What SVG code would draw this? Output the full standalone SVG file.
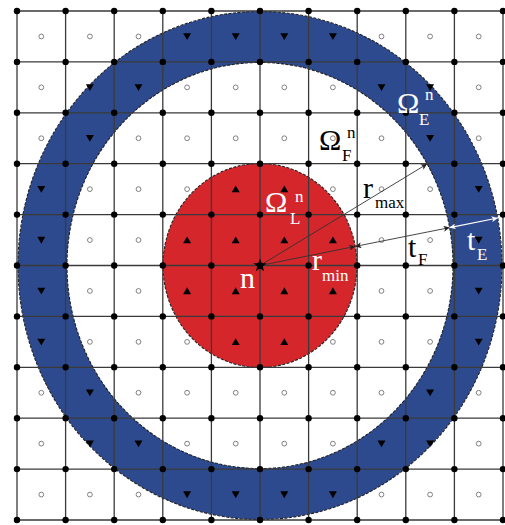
<svg xmlns="http://www.w3.org/2000/svg" xmlns:xlink="http://www.w3.org/1999/xlink" width="505" height="525" viewBox="0 0 505 525">
<style>
.t{font-family:"Liberation Serif","Times New Roman",serif}
.big{font-size:30px}
.sm{font-size:17px}
.w{fill:#fff}
.k{fill:#000}
.grid{stroke:#3a3a3a;stroke-width:1.3;fill:none}
.dots{stroke:#000;stroke-width:6.4;stroke-linecap:round;stroke-dasharray:0 48.6;fill:none}
.edge{stroke:#222;stroke-width:1.1;stroke-dasharray:3 1.5}
.arr{stroke:#333;stroke-width:0.9;fill:none}
.arrw{stroke:#fff;stroke-width:1.1;fill:none}
</style>
<defs>
<circle id="c" r="2.4" fill="none" stroke="#808080" stroke-width="1"/>
<path id="u" d="M-4,3.2 L4,3.2 L0,-3.6 Z" fill="#000"/>
<path id="d" d="M-4,-3.2 L4,-3.2 L0,3.6 Z" fill="#000"/>
<marker id="ah" viewBox="0 0 10 10" refX="10" refY="5" markerWidth="8" markerHeight="6" markerUnits="userSpaceOnUse" orient="auto-start-reverse"><path d="M0,0 L10,5 L0,10 L2.5,5 Z" fill="#222"/></marker>
<marker id="ahw" viewBox="0 0 10 10" refX="10" refY="5" markerWidth="8" markerHeight="6" markerUnits="userSpaceOnUse" orient="auto-start-reverse"><path d="M0,0 L10,5 L0,10 L2.5,5 Z" fill="#fff"/></marker>
</defs>
<rect width="505" height="525" fill="#fff"/>
<g id="regions">
<path id="omegaE" d="M18,265.5 a242,254 0 1,0 484,0 a242,254 0 1,0 -484,0 Z M67,265.5 a193,203 0 1,0 386,0 a193,203 0 1,0 -386,0 Z" fill="#2e4a8e" fill-rule="evenodd" class="edge"/>
<ellipse id="omegaL" cx="260" cy="265.5" rx="97" ry="102" fill="#d5262b" class="edge"/>
</g>
<g id="grid">
<path class="grid" d="M17,11V520M65.6,11V520M114.2,11V520M162.8,11V520M211.4,11V520M260,11V520M308.6,11V520M357.2,11V520M405.8,11V520M454.4,11V520M503,11V520M17,11H503M17,61.9H503M17,112.8H503M17,163.7H503M17,214.6H503M17,265.5H503M17,316.4H503M17,367.3H503M17,418.2H503M17,469.1H503M17,520H503"/>
<path class="dots" d="M17,11H503.5M17,61.9H503.5M17,112.8H503.5M17,163.7H503.5M17,214.6H503.5M17,265.5H503.5M17,316.4H503.5M17,367.3H503.5M17,418.2H503.5M17,469.1H503.5M17,520H503.5"/>
</g>
<g id="cells">
<g transform="translate(0,36.45)"><use href="#c" x="41.3"/><use href="#c" x="89.9"/><use href="#c" x="138.5"/><use href="#d" x="187.1"/><use href="#d" x="235.7"/><use href="#d" x="284.3"/><use href="#d" x="332.9"/><use href="#c" x="381.5"/><use href="#c" x="430.1"/><use href="#c" x="478.7"/></g>
<g transform="translate(0,87.35)"><use href="#c" x="41.3"/><use href="#d" x="89.9"/><use href="#d" x="138.5"/><use href="#c" x="187.1"/><use href="#c" x="235.7"/><use href="#c" x="284.3"/><use href="#c" x="332.9"/><use href="#d" x="381.5"/><use href="#d" x="430.1"/><use href="#c" x="478.7"/></g>
<g transform="translate(0,138.25)"><use href="#c" x="41.3"/><use href="#d" x="89.9"/><use href="#c" x="138.5"/><use href="#c" x="187.1"/><use href="#c" x="235.7"/><use href="#c" x="284.3"/><use href="#c" x="332.9"/><use href="#c" x="381.5"/><use href="#d" x="430.1"/><use href="#c" x="478.7"/></g>
<g transform="translate(0,189.15)"><use href="#d" x="41.3"/><use href="#c" x="89.9"/><use href="#c" x="138.5"/><use href="#c" x="187.1"/><use href="#u" x="235.7"/><use href="#u" x="284.3"/><use href="#c" x="332.9"/><use href="#c" x="381.5"/><use href="#c" x="430.1"/><use href="#d" x="478.7"/></g>
<g transform="translate(0,240.05)"><use href="#d" x="41.3"/><use href="#c" x="89.9"/><use href="#c" x="138.5"/><use href="#u" x="187.1"/><use href="#u" x="235.7"/><use href="#u" x="284.3"/><use href="#u" x="332.9"/><use href="#c" x="381.5"/><use href="#c" x="430.1"/><use href="#d" x="478.7"/></g>
<g transform="translate(0,290.95)"><use href="#d" x="41.3"/><use href="#c" x="89.9"/><use href="#c" x="138.5"/><use href="#u" x="187.1"/><use href="#u" x="235.7"/><use href="#u" x="284.3"/><use href="#u" x="332.9"/><use href="#c" x="381.5"/><use href="#c" x="430.1"/><use href="#d" x="478.7"/></g>
<g transform="translate(0,341.85)"><use href="#d" x="41.3"/><use href="#c" x="89.9"/><use href="#c" x="138.5"/><use href="#c" x="187.1"/><use href="#u" x="235.7"/><use href="#u" x="284.3"/><use href="#c" x="332.9"/><use href="#c" x="381.5"/><use href="#c" x="430.1"/><use href="#d" x="478.7"/></g>
<g transform="translate(0,392.75)"><use href="#c" x="41.3"/><use href="#d" x="89.9"/><use href="#c" x="138.5"/><use href="#c" x="187.1"/><use href="#c" x="235.7"/><use href="#c" x="284.3"/><use href="#c" x="332.9"/><use href="#c" x="381.5"/><use href="#d" x="430.1"/><use href="#c" x="478.7"/></g>
<g transform="translate(0,443.65)"><use href="#c" x="41.3"/><use href="#d" x="89.9"/><use href="#d" x="138.5"/><use href="#c" x="187.1"/><use href="#c" x="235.7"/><use href="#c" x="284.3"/><use href="#c" x="332.9"/><use href="#d" x="381.5"/><use href="#d" x="430.1"/><use href="#c" x="478.7"/></g>
<g transform="translate(0,494.55)"><use href="#c" x="41.3"/><use href="#c" x="89.9"/><use href="#c" x="138.5"/><use href="#d" x="187.1"/><use href="#d" x="235.7"/><use href="#d" x="284.3"/><use href="#d" x="332.9"/><use href="#c" x="381.5"/><use href="#c" x="430.1"/><use href="#c" x="478.7"/></g>
</g>
<g id="connectors">
<line class="arr" x1="260" y1="265.5" x2="427" y2="164" marker-end="url(#ah)"/>
<line class="arr" x1="260" y1="265.5" x2="355.3" y2="246.4" marker-end="url(#ah)"/>
<line class="arr" x1="355.3" y1="246.4" x2="449.6" y2="227.6" marker-start="url(#ah)" marker-end="url(#ah)"/>
<line class="arrw" x1="449.6" y1="227.6" x2="497.7" y2="218" marker-start="url(#ahw)" marker-end="url(#ahw)"/>
</g>
<g id="node-n">
<path d="M260,258.5 L261.65,263.24 L266.66,263.34 L262.66,266.37 L264.11,271.16 L260,268.3 L255.89,271.16 L257.34,266.37 L253.34,263.34 L258.35,263.24 Z" fill="#000"/>
<text class="t big w" x="240" y="288">n</text>
</g>
<g id="labels">
<text class="t big w" x="397" y="113">Ω</text><text class="t sm w" x="425" y="100">n</text><text class="t sm w" x="419" y="125">E</text>
<text class="t big k" x="319" y="150">Ω</text><text class="t sm k" x="347" y="138">n</text><text class="t sm k" x="342" y="161">F</text>
<text class="t big w" x="265" y="212">Ω</text><text class="t sm w" x="295" y="202">n</text><text class="t sm w" x="290" y="224">L</text>
<text class="t big k" x="363" y="198">r</text><text class="t sm k" x="375" y="208">max</text>
<text class="t big w" x="312" y="270">r</text><text class="t sm w" x="322" y="281">min</text>
<text class="t big k" x="408" y="257">t</text><text class="t sm k" x="418" y="265">F</text>
<text class="t big w" x="467" y="250">t</text><text class="t sm w" x="477" y="260">E</text>
</g>
</svg>
